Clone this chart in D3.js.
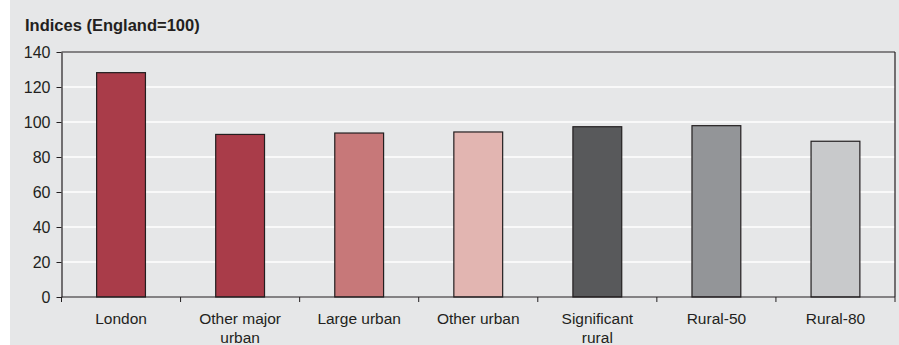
<!DOCTYPE html>
<html>
<head>
<meta charset="utf-8">
<script src="https://cdn.jsdelivr.net/npm/d3@7"></script>
<style>
  body { margin: 0; background: #fff; }
  svg { display: block; font-family: "Liberation Sans", Arial, sans-serif; }
</style>
</head>
<body>
<svg id="chart" width="899" height="345"></svg>
<script>
const categories = ["London", "Other major urban", "Large urban", "Other urban", "Significant rural", "Rural-50", "Rural-80"];
const labelLines = [["London"], ["Other major", "urban"], ["Large urban"], ["Other urban"], ["Significant", "rural"], ["Rural-50"], ["Rural-80"]];
const values = [128.2, 92.9, 93.7, 94.3, 97.3, 97.9, 89.0];
const barColors = ["#a93c49", "#a93c49", "#c77879", "#e2b5b1", "#58595b", "#939598", "#c8c9cb"];
const yTicks = [0, 20, 40, 60, 80, 100, 120, 140];

const svg = d3.select("#chart");
const margin = { top: 52, right: 4, bottom: 48, left: 61.5 };
const width = +svg.attr("width") - margin.left - margin.right;
const height = +svg.attr("height") - margin.top - margin.bottom;
const ink = "#231f20";

// grey panel (leaves a thin white strip on the left)
svg.append("rect")
  .attr("x", 10).attr("y", 0)
  .attr("width", 889).attr("height", 345)
  .attr("fill", "#e6e7e8");

// title
svg.append("text")
  .attr("x", 25).attr("y", 31)
  .attr("fill", ink)
  .style("font-size", "16.5px")
  .style("font-weight", "bold")
  .text("Indices (England=100)");

const g = svg.append("g")
  .attr("transform", `translate(${margin.left},${margin.top})`);

const y = d3.scaleLinear().domain([0, 140]).range([height, 0]);

// sections for the ticks between categories
const xCat = d3.scaleBand().domain(categories).range([0, width]).padding(0);
// bars centred in each section
const x = d3.scaleBand().domain(categories).range([0, width])
  .paddingInner(0.59).paddingOuter(0.295);

// gridlines
g.selectAll(".grid")
  .data(yTicks.filter(v => v > 0 && v < 140))
  .join("line")
  .attr("x1", 0).attr("x2", width)
  .attr("y1", d => y(d)).attr("y2", d => y(d))
  .attr("stroke", "#ffffff")
  .attr("stroke-width", 1.5);

// frame top and right
g.append("line")
  .attr("x1", 0).attr("x2", width)
  .attr("y1", y(140)).attr("y2", y(140))
  .attr("stroke", ink).attr("stroke-width", 1.2);
g.append("line")
  .attr("x1", width).attr("x2", width)
  .attr("y1", y(140)).attr("y2", y(0))
  .attr("stroke", ink).attr("stroke-width", 1.2);

// bars
g.selectAll(".bar")
  .data(values)
  .join("rect")
  .attr("class", "bar")
  .attr("x", (d, i) => x(categories[i]))
  .attr("y", d => y(d))
  .attr("width", x.bandwidth())
  .attr("height", d => y(0) - y(d))
  .attr("fill", (d, i) => barColors[i])
  .attr("stroke", ink)
  .attr("stroke-width", 1.2);

// y axis
const yAxis = g.append("g")
  .call(d3.axisLeft(y).tickValues(yTicks).tickSize(5).tickSizeOuter(0).tickPadding(6));
yAxis.select(".domain").attr("stroke", ink).attr("stroke-width", 1.2);
yAxis.selectAll(".tick line").attr("stroke", ink);
yAxis.selectAll(".tick text")
  .attr("fill", ink)
  .style("font-size", "16px")
  .style("font-family", "'Liberation Sans', Arial, sans-serif");

// x axis line and ticks between categories
const xAxis = g.append("g").attr("transform", `translate(0,${height})`);
xAxis.append("line")
  .attr("x1", 0).attr("x2", width)
  .attr("y1", 0).attr("y2", 0)
  .attr("stroke", ink).attr("stroke-width", 1.2);
const boundaries = categories.map(c => xCat(c)).concat([width]);
xAxis.selectAll(".xtick")
  .data(boundaries)
  .join("line")
  .attr("x1", d => d).attr("x2", d => d)
  .attr("y1", 0).attr("y2", 5)
  .attr("stroke", ink);

// category labels
xAxis.selectAll(".xlabel")
  .data(labelLines)
  .join("text")
  .attr("text-anchor", "middle")
  .attr("fill", ink)
  .style("font-size", "15.5px")
  .attr("transform", (d, i) => `translate(${xCat(categories[i]) + xCat.bandwidth() / 2},27)`)
  .selectAll("tspan")
  .data(d => d)
  .join("tspan")
  .attr("x", 0)
  .attr("dy", (d, i) => i === 0 ? 0 : 19)
  .text(d => d);
</script>
</body>
</html>
